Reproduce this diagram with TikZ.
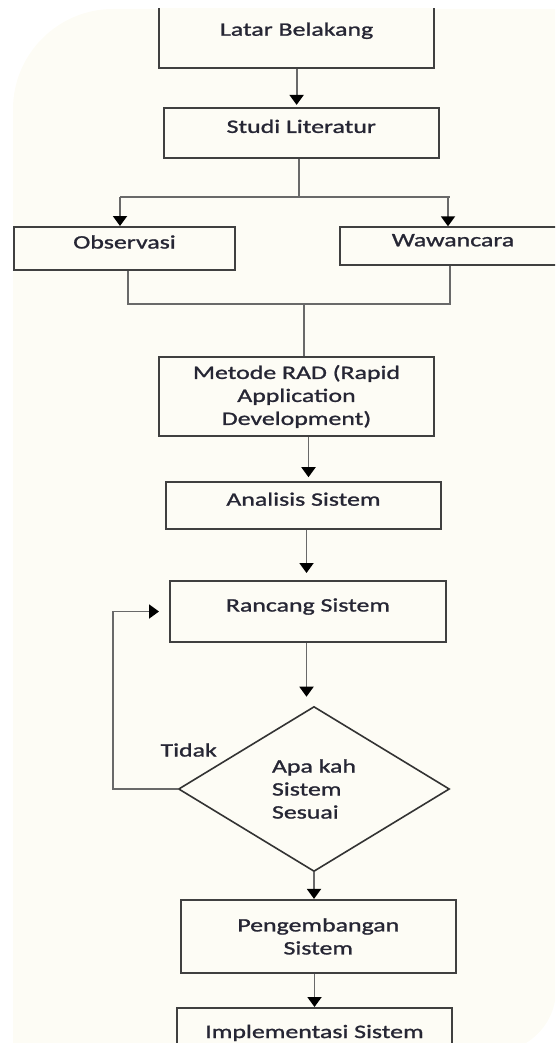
\documentclass[tikz,border=0pt]{standalone}
\usepackage{fontspec}
\setmainfont{Carlito}[FakeStretch=1.36,FakeBold=1.2]
\usetikzlibrary{arrows.meta,shapes.geometric}
\definecolor{krem}{RGB}{253,252,245}
\definecolor{tulisan}{RGB}{38,38,52}
\definecolor{abu}{RGB}{105,105,105}

\begin{document}
\begin{tikzpicture}[x=1pt,y=-1pt]
\tikzstyle{blok} = [rectangle, draw=black!75, line width=2pt, fill=krem, text=tulisan,
font=\fontsize{19}{23}\selectfont, inner sep=0pt, text height=10pt, text depth=10pt, minimum width=275pt]
\tikzstyle{blok_dua} = [rectangle, draw=black!75, line width=2pt, fill=krem, text=tulisan,
font=\fontsize{19}{23}\selectfont, inner sep=0pt, align=center, minimum width=275pt]
\tikzstyle{keputusan} = [diamond, draw=black!80, line width=1.6pt, fill=krem, text=tulisan,
font=\fontsize{19}{23}\selectfont, align=left, inner sep=0pt, minimum width=271pt, minimum height=165pt]
\tikzstyle{ket} = [text=tulisan, font=\fontsize{19}{23}\selectfont, inner sep=0pt]
\tikzstyle{garis} = [draw=abu, line width=1.9pt]
\tikzstyle{panah} = [garis, -{Triangle[width=14pt,length=10pt,color=black,fill=black]}]

\useasboundingbox (0,0) rectangle (555,1043);
\clip (0,9) rectangle (555,1043);
% bidang latar
\fill [krem] (13,1100) -- (13,109) .. controls (13,54) and (58,9) .. (113,9) -- (556,9)
  -- (556,990) .. controls (556,1024) and (528,1052) .. (494,1052) -- (13,1052) -- cycle;

% kotak
\node [blok, minimum height=65pt] (latar) at (296.6,35.7) {Latar Belakang};
\node [blok, minimum height=50pt] (studi) at (301.3,132.9) {Studi Literatur};
\node [blok, minimum width=221pt, minimum height=43pt] (obs) at (124.5,248.5) {Observasi};
\node [blok, minimum width=226pt, minimum height=38pt] (wawan) at (453,246.3) {Wawancara};
\node [blok_dua, minimum height=79pt] (rad) at (296.5,396.5) {Metode RAD (Rapid\\Application\\Development)};
\node [blok, minimum height=47pt] (analisis) at (303.5,505.7) {Analisis Sistem};
\node [blok, minimum width=276pt, minimum height=61pt] (rancang) at (308,611.5) {Rancang Sistem};
\node [keputusan] (cek) at (314,789) {Apa kah\\Sistem\\Sesuai};
\node [blok_dua, minimum height=73pt] (kembang) at (318.3,936.4) {Pengembangan\\Sistem};
\node [blok, minimum height=60pt] (impl) at (314.5,1038) {Implementasi Sistem};

\coordinate (kiri) at (120,197);
\coordinate (kanan) at (448,197);
\coordinate (gabung) at (304,304);

% garis penghubung
\draw [panah, shorten >=2pt] (latar.south) -- (latar.south |- studi.north);
\draw [garis] ([xshift=-2pt]studi.south) -- ([xshift=-2pt]studi.south |- kiri);
\draw [garis] (kiri) -- ([xshift=2pt]kanan);
\draw [panah] (kiri) -- (kiri |- obs.north);
\draw [panah] (kanan) -- (kanan |- wawan.north);
\draw [garis] ([xshift=3.5pt]obs.south) |- (gabung) -| ([xshift=-3pt]wawan.south);
\draw [garis] (gabung) -- (gabung |- rad.north);
\draw [panah, shorten >=4pt] ([xshift=12pt]rad.south) -- ([xshift=5pt]analisis.north);
\draw [panah, shorten >=7pt] ([xshift=3pt]analisis.south) -- ([xshift=3pt]analisis.south |- rancang.north);
\draw [panah, shorten >=9pt] ([xshift=-1.5pt]rancang.south) -- ([xshift=-1.5pt]rancang.south |- cek.north);
\draw [panah] (cek.south) -- (cek.south |- kembang.north);
\draw [panah] (kembang.south -| impl.north) -- (impl.north);
\draw [panah, shorten >=10pt] (cek.west) node [ket, xshift=11pt, yshift=39pt] {Tidak}
  -- ++(-64.5,0) |- (rancang.west);
\end{tikzpicture}
\end{document}
